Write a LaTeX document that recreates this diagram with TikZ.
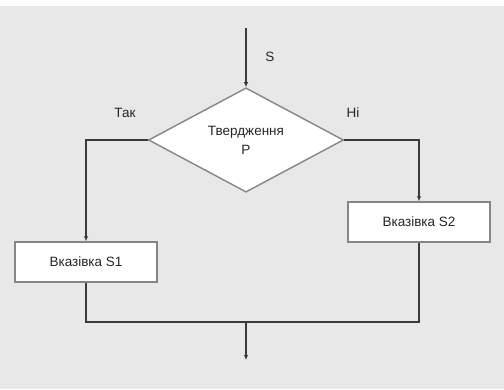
\documentclass[tikz,border=0pt]{standalone}
\usepackage{xcolor}
\usepackage{fontspec}
\setmainfont{Liberation Sans}
\usepackage{tikz}
\usetikzlibrary{positioning, arrows.meta, shapes.geometric}
\definecolor{bggray}{HTML}{E8E8E8}
\definecolor{linegray}{HTML}{858585}
\definecolor{arrowgray}{HTML}{3A3A3A}

\tikzset{
  stepbox/.style={draw=linegray, fill=white, line width=1.4pt,
                  minimum width=142pt, minimum height=40pt, inner sep=0pt},
  test/.style={diamond, draw=linegray, fill=white, line width=1.4pt,
               minimum width=195pt, minimum height=101pt, inner sep=0pt,
               align=center},
  flow/.style={draw=arrowgray, line width=1.2pt},
  arr/.style={flow, -{Latex[length=5pt, width=4.5pt]}},
  lbl/.style={font=\fontsize{13.5}{15}\selectfont}
}

\begin{document}
\begin{tikzpicture}[x=1pt, y=1pt, font=\fontsize{13.5}{15}\selectfont,
                    text=black!85]
    \useasboundingbox (0,0) rectangle (504,-389);
    \fill[white] (0,0) rectangle (504,-6);
    \fill[bggray] (0,-6) rectangle (504,-389);

    % decision and the two branches
    \node[test] (cond) at (246,-140) {Твердження\\[4pt]P};
    \node[stepbox] (s1) at (86,-262) {Вказівка S1};
    \node[stepbox] (s2) at (419,-222) {Вказівка S2};

    \coordinate (in) at (246,-28);
    \coordinate (join) at (246,-322);
    \coordinate (out) at (246,-360);

    \draw[arr] (in) -- (cond.north);
    \draw[arr] (cond.west) -| (s1.north);
    \draw[arr] (cond.east) -| (s2.north);
    \draw[flow] (s1.south) |- (join) -| (s2.south);
    \draw[arr] (join) -- (out);

    % labels
    \node[lbl] (lbs) at (270,-57) {S};
    \node[lbl] (lbyes) at (125,-113) {Так};
    \node[lbl] (lbno) at (353,-113) {Ні};
\end{tikzpicture}
\end{document}
